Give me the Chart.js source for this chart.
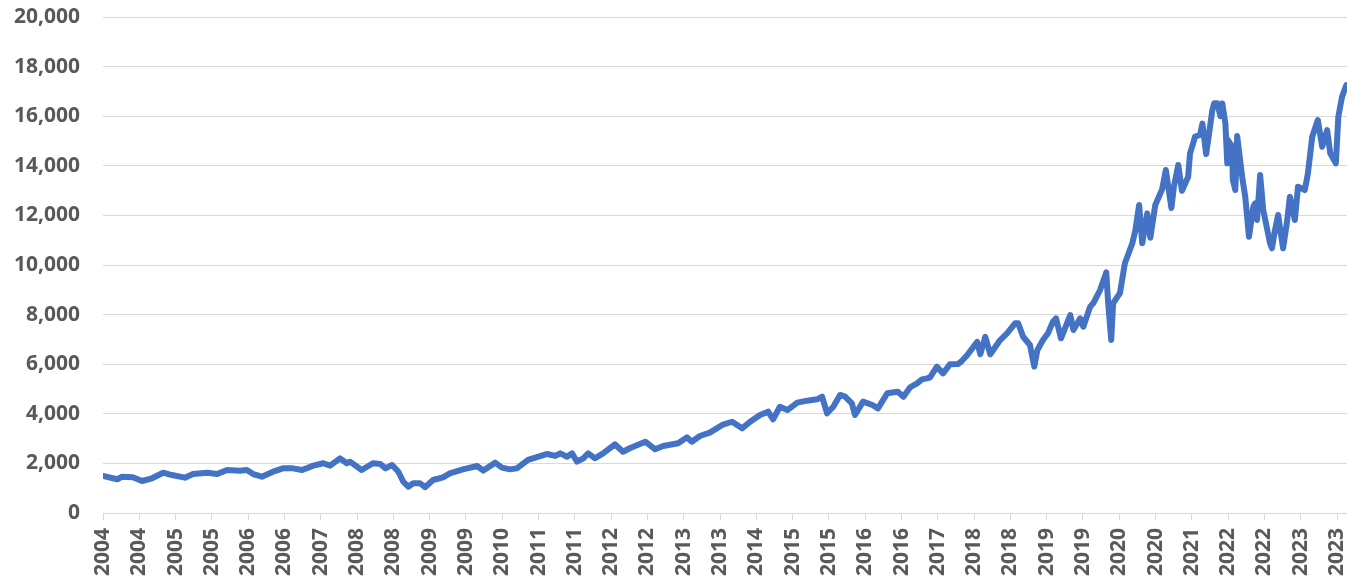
<!DOCTYPE html>
<html>
<head>
<meta charset="utf-8">
<script src="https://cdn.jsdelivr.net/npm/chart.js@4/dist/chart.umd.min.js"></script>
<style>
  html, body { margin: 0; padding: 0; background: #ffffff; }
  #wrap { width: 1347px; height: 584px; }
</style>
</head>
<body>
<div id="wrap"><canvas id="c" width="1347" height="584"></canvas></div>
<script>
// Dates as decimal years
const dates = [
  2004.00, 2004.23, 2004.31, 2004.48, 2004.63, 2004.79, 2004.97, 2005.11, 2005.32, 2005.45,
  2005.68, 2005.84, 2006.00, 2006.21, 2006.32, 2006.42, 2006.56, 2006.74, 2006.90, 2007.06,
  2007.21, 2007.39, 2007.55, 2007.66, 2007.82, 2007.93, 2007.98, 2008.17, 2008.35, 2008.47,
  2008.55, 2008.66, 2008.76, 2008.84, 2008.92, 2009.00, 2009.11, 2009.19, 2009.32, 2009.48,
  2009.59, 2009.80, 2010.03, 2010.13, 2010.32, 2010.43, 2010.56, 2010.67, 2010.85, 2011.16,
  2011.29, 2011.37, 2011.48, 2011.56, 2011.64, 2011.74, 2011.82, 2011.93, 2012.06, 2012.25,
  2012.38, 2012.49, 2012.74, 2012.90, 2013.03, 2013.27, 2013.41, 2013.49, 2013.62, 2013.78,
  2013.98, 2014.14, 2014.30, 2014.43, 2014.59, 2014.72, 2014.80, 2014.91, 2015.03, 2015.19,
  2015.35, 2015.51, 2015.59, 2015.67, 2015.77, 2015.88, 2015.96, 2016.07, 2016.12, 2016.25,
  2016.40, 2016.49, 2016.64, 2016.81, 2016.90, 2017.01, 2017.12, 2017.20, 2017.28, 2017.33,
  2017.44, 2017.54, 2017.65, 2017.78, 2017.83, 2017.93, 2018.09, 2018.14, 2018.22, 2018.30,
  2018.46, 2018.57, 2018.70, 2018.75, 2018.83, 2018.94, 2019.01, 2019.06, 2019.15, 2019.23,
  2019.31, 2019.36, 2019.44, 2019.59, 2019.64, 2019.75, 2019.80, 2019.91, 2019.96, 2020.07,
  2020.17, 2020.20, 2020.25, 2020.28, 2020.35, 2020.39, 2020.47, 2020.59, 2020.64, 2020.70,
  2020.75, 2020.83, 2020.88, 2020.96, 2021.07, 2021.13, 2021.22, 2021.26, 2021.33, 2021.39,
  2021.49, 2021.52, 2021.57, 2021.60, 2021.68, 2021.72, 2021.78, 2021.88, 2021.91, 2021.96,
  2022.01, 2022.04, 2022.09, 2022.12, 2022.13, 2022.20, 2022.21, 2022.25, 2022.28, 2022.36,
  2022.41, 2022.47, 2022.54, 2022.57, 2022.60, 2022.65, 2022.70, 2022.81, 2022.84, 2022.89,
  2022.94, 2023.02, 2023.08, 2023.13, 2023.21, 2023.26, 2023.37, 2023.42, 2023.49, 2023.58,
  2023.65, 2023.73, 2023.78, 2023.87, 2023.91, 2023.97, 2024.04
];
const values = [
  1490, 1360, 1465, 1440, 1290, 1400, 1625, 1530, 1425, 1570,
  1625, 1570, 1735, 1705, 1735, 1570, 1465, 1665, 1800, 1800,
  1735, 1910, 2005, 1910, 2205, 2005, 2070, 1735, 2005, 1975,
  1800, 1935, 1665, 1260, 1060, 1200, 1200, 1040, 1330, 1440,
  1600, 1760, 1895, 1710, 2030, 1830, 1760, 1800, 2140, 2380,
  2300, 2405, 2270, 2405, 2070, 2205, 2405, 2205, 2405, 2770,
  2470, 2610, 2875, 2570, 2700, 2810, 3050, 2875, 3105, 3240,
  3550, 3680, 3415, 3680, 3950, 4085, 3780, 4285, 4150, 4450,
  4530, 4585, 4690, 4020, 4285, 4760, 4690, 4420, 3950, 4490,
  4355, 4220, 4825, 4890, 4690, 5070, 5230, 5390, 5430, 5470,
  5900, 5630, 6000, 6010, 6100, 6370, 6900, 6400, 7100, 6400,
  6975, 7245, 7650, 7650, 7108, 6774, 5900, 6570, 6975, 7245,
  7713, 7850, 7044, 7983, 7379, 7850, 7512, 8318, 8455, 8991,
  9700, 8500, 6975, 8455, 8720, 8858, 10068, 10874, 11411, 12418,
  10874, 12082, 11100, 12420, 13050, 13830, 12300, 13156, 14031, 12990,
  13560, 14503, 14906, 15173, 15241, 15700, 14470, 16249, 16518, 16518,
  16000, 16518, 15712, 14100, 15039, 14771, 13427, 13023, 15200, 13560,
  12754, 11141, 12351, 12487, 11814, 13628, 12217, 10874, 10673, 11411,
  12015, 10673, 11681, 12754, 11814, 13156, 13023, 13696, 15173, 15846,
  14771, 15443, 14503, 14100, 15979, 16786, 17257
];
// Category-style tick labels shown under the axis
const tickLabels = [
  '2004','2004','2005','2005','2006','2006','2007','2008','2008','2009',
  '2009','2010','2011','2011','2012','2012','2013','2013','2014','2015',
  '2015','2016','2016','2017','2018','2018','2019','2019','2020','2020',
  '2021','2022','2022','2023','2023'
];
const tickStart = 2004.0;
const tickStep = 0.585;
const yTicks = [0, 2000, 4000, 6000, 8000, 10000, 12000, 14000, 16000, 18000, 20000];

const points = dates.map((d, i) => ({ x: d, y: values[i] }));
const tickPositions = tickLabels.map((_, i) => tickStart + i * tickStep);

const labelFont = { family: "'Open Sans', 'Noto Sans', sans-serif", size: 21, weight: 'bold' };

new Chart(document.getElementById('c'), {
  type: 'line',
  data: {
    datasets: [{
      data: points,
      borderColor: '#4472C4',
      borderWidth: 6,
      pointRadius: 0,
      tension: 0,
      borderJoinStyle: 'round',
      borderCapStyle: 'round',
      fill: false
    }]
  },
  options: {
    responsive: false,
    animation: false,
    layout: { padding: { top: 17, right: 0, left: 0, bottom: 0 } },
    plugins: { legend: { display: false }, tooltip: { enabled: false } },
    scales: {
      x: {
        type: 'linear',
        min: 2004.0,
        max: 2024.05,
        afterBuildTicks: (scale) => { scale.ticks = tickPositions.map(v => ({ value: v })); },
        afterFit: (scale) => { scale.height = 71; scale.paddingLeft = 0; scale.paddingRight = 0; },
        ticks: {
          autoSkip: false,
          minRotation: 90,
          maxRotation: 90,
          padding: 8,
          color: '#595959',
          font: labelFont,
          callback: (v, i) => tickLabels[i]
        },
        grid: { display: true, drawOnChartArea: false, drawTicks: true, tickLength: 7, color: '#d9d9d9', lineWidth: 1 },
        border: { display: true, color: '#d9d9d9', width: 1 }
      },
      y: {
        min: 0,
        max: 20000,
        afterBuildTicks: (scale) => { scale.ticks = yTicks.map(v => ({ value: v })); },
        afterFit: (scale) => { scale.width = 103; scale.paddingTop = 0; scale.paddingBottom = 0; },
        ticks: {
          padding: 23,
          color: '#595959',
          font: labelFont,
          callback: (v) => v.toLocaleString('en-US')
        },
        grid: { display: true, drawTicks: false, color: '#d9d9d9', lineWidth: 1 },
        border: { display: false }
      }
    }
  }
});
</script>
</body>
</html>
